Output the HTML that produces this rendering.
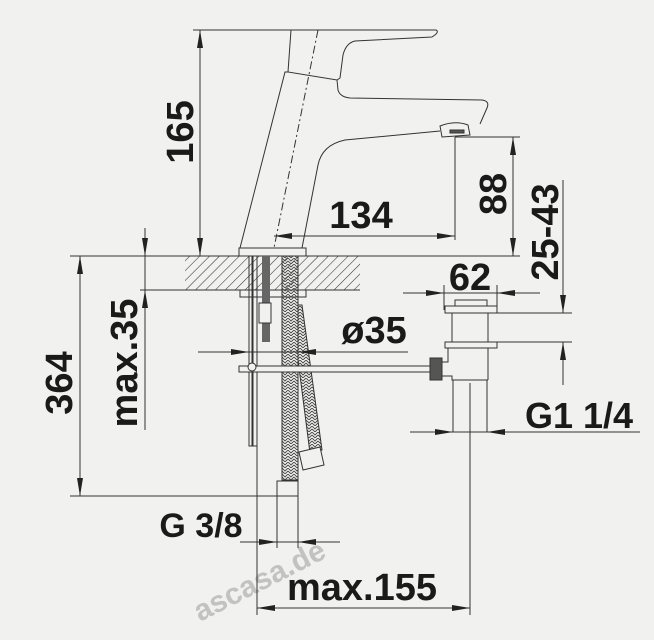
<!DOCTYPE html>
<html><head><meta charset="utf-8"><style>
html,body{margin:0;padding:0;background:#f1f1f0;}
svg{display:block;}
text{font-family:"Liberation Sans",Arial,sans-serif;font-weight:bold;fill:#1a1a1a;}
</style></head><body>
<svg width="654" height="640" viewBox="0 0 654 640" xmlns="http://www.w3.org/2000/svg">
<defs>
<pattern id="h" width="7" height="7" patternUnits="userSpaceOnUse" patternTransform="rotate(45)">
<line x1="0" y1="0" x2="0" y2="7" stroke="#333" stroke-width="1.1"/></pattern>
<pattern id="br" width="6" height="6" patternUnits="userSpaceOnUse">
<path d="M0 0 L3 3 L6 0 M0 3 L3 6 L6 3" stroke="#444" fill="none" stroke-width="0.9"/></pattern>
</defs>
<text x="200" y="622" transform="rotate(-27 200 622)" style="font-size:30px;fill:#c2c2c2;font-weight:bold">ascasa.de</text>
<g stroke="#333" stroke-width="1" fill="none">
<rect x="185" y="256" width="175" height="34" fill="url(#h)" stroke="none"/>
<line x1="70" y1="256" x2="520" y2="256"/>
<line x1="140" y1="290" x2="360" y2="290"/>
<line x1="193" y1="30" x2="290" y2="30"/>
<path d="M290 30 L436 30 Q440 32 432 37 L355 41 Q346 43 343 55 L340 78 L337 80 L288 72 L291 30" fill="#f1f1f0"/>
<path d="M288 72 L285 72 L240 248"/>
<path d="M337 80 L338 90 Q340 97 350 98 L482 100 Q490 101 487 108 L480 124"/>
<path d="M302 248 L318 165 Q322 145 345 140 L440 131"/>
<path d="M440 126 Q455 120 468 125 L470 135 L442 137 Z" fill="#f1f1f0"/>
<rect x="450" y="130" width="14" height="3" fill="#555"/>
<line x1="318" y1="30" x2="274" y2="248" stroke-dasharray="8 3 2 3"/>
<rect x="239" y="248" width="67" height="8" fill="#f1f1f0"/>
<rect x="240" y="290" width="66" height="7" fill="#f1f1f0"/>
<rect x="249" y="256" width="3" height="190"/>
<rect x="253" y="256" width="4" height="190"/>
<rect x="262" y="256" width="8" height="86" fill="#666" stroke="none"/>
<rect x="259" y="303" width="12" height="20" fill="#f1f1f0"/>
<path d="M282 256 L282 480 L298 480 L298 256 Z" fill="url(#br)"/>
<path d="M298 305 L302 305 L322 450 L310 453 L298 360 Z" fill="url(#br)"/>
<path d="M299 452 L320 447 L324 465 L303 470 Z" fill="#f1f1f0"/>
<rect x="277" y="481" width="21" height="15" fill="#f1f1f0"/>
<rect x="239" y="366" width="193" height="6" fill="#f1f1f0"/>
<circle cx="252" cy="367" r="4" fill="#f1f1f0"/>
<rect x="430" y="358" width="12" height="22" fill="#555"/>
<path d="M442 362 L448 362 L448 348 M488 348 L488 380 M442 376 L452 376 L452 380 L488 380"/>
<rect x="455" y="300" width="32" height="6" fill="#f1f1f0"/>
<rect x="445" y="306" width="52" height="7" fill="#f1f1f0"/>
<rect x="452" y="313" width="36" height="29" fill="#f1f1f0"/>
<rect x="445" y="342" width="52" height="6" fill="#f1f1f0"/>
<path d="M453 380 L453 432 M487 380 L487 432 M470 383 L470 445"/>
<line x1="497" y1="313" x2="572" y2="313"/>
<line x1="497" y1="342" x2="572" y2="342"/>
<line x1="200" y1="30" x2="200" y2="256"/>
<line x1="274" y1="236" x2="455" y2="236"/>
<line x1="455" y1="137" x2="455" y2="240"/>
<line x1="455" y1="137" x2="520" y2="137"/>
<line x1="513" y1="137" x2="513" y2="256"/>
<line x1="563" y1="180" x2="563" y2="313"/>
<line x1="563" y1="342" x2="563" y2="385"/>
<line x1="403" y1="293" x2="540" y2="293"/>
<line x1="444" y1="285" x2="444" y2="310"/><line x1="497" y1="285" x2="497" y2="310"/>
<line x1="198" y1="352" x2="408" y2="352"/>
<line x1="410" y1="432" x2="640" y2="432"/>
<line x1="80" y1="256" x2="80" y2="496"/>
<line x1="70" y1="496" x2="278" y2="496"/>
<line x1="145" y1="228" x2="145" y2="430"/>
<line x1="240" y1="542" x2="340" y2="542"/>
<line x1="277" y1="496" x2="277" y2="548"/><line x1="298" y1="496" x2="298" y2="548"/>
<line x1="257" y1="446" x2="257" y2="615"/>
<line x1="470" y1="445" x2="470" y2="615"/>
<line x1="257" y1="608" x2="470" y2="608"/>
</g>
<g fill="#222">
<!-- vertical arrows: up (tip at top) / down -->
<polygon points="200,30 197,48 203,48"/><polygon points="200,256 197,238 203,238"/>
<polygon points="513,137 510,155 516,155"/><polygon points="513,256 510,238 516,238"/>
<polygon points="563,313 560,295 566,295"/><polygon points="563,342 560,360 566,360"/>
<polygon points="80,256 77,274 83,274"/><polygon points="80,496 77,478 83,478"/>
<polygon points="145,256 142,238 148,238"/><polygon points="145,290 142,308 148,308"/>
<!-- horizontal -->
<polygon points="274,236 292,233 292,239"/><polygon points="455,236 437,233 437,239"/>
<polygon points="444,293 426,290 426,296"/><polygon points="497,293 515,290 515,296"/>
<polygon points="249,352 231,349 231,355"/><polygon points="298,352 316,349 316,355"/>
<polygon points="453,432 435,429 435,435"/><polygon points="487,432 505,429 505,435"/>
<polygon points="277,542 259,539 259,545"/><polygon points="298,542 316,539 316,545"/>
<polygon points="257,608 275,605 275,611"/><polygon points="470,608 452,605 452,611"/>
</g>
<g font-size="38">
<text text-anchor="middle" transform="translate(193,132) rotate(-90)">165</text>
<text x="361" y="228" text-anchor="middle">134</text>
<text text-anchor="middle" transform="translate(506,194) rotate(-90)">88</text>
<text text-anchor="middle" transform="translate(558,232) rotate(-90)">25-43</text>
<text x="470" y="290" text-anchor="middle">62</text>
<text x="374" y="343" text-anchor="middle">ø35</text>
<text text-anchor="middle" transform="translate(72,383) rotate(-90)">364</text>
<text text-anchor="middle" transform="translate(137,363) rotate(-90)">max.35</text>
<text x="579" y="428" text-anchor="middle" font-size="36">G1 1/4</text>
<text x="201" y="537" text-anchor="middle" font-size="34">G 3/8</text>
<text x="362" y="600" text-anchor="middle">max.155</text>
</g>
</svg>
</body></html>
